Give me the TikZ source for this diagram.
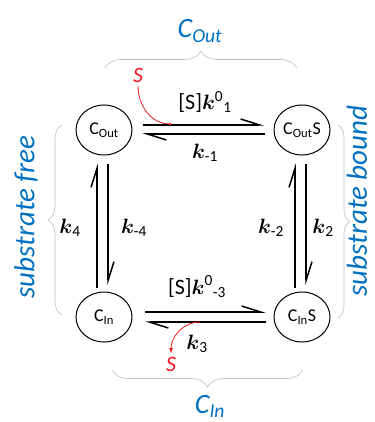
\documentclass[tikz,border=0pt]{standalone}
\usepackage{amsmath}
\usepackage{fontspec}
\setmainfont{Carlito}
\usetikzlibrary{arrows.meta,shapes.geometric,decorations.pathreplacing}
\tikzset{>=latex}
\definecolor{myblue}{RGB}{0,112,192}
\definecolor{myred}{RGB}{235,25,35}
\definecolor{mygray}{RGB}{180,192,205}
\tikzstyle{species}=[ellipse,draw,line width=1pt,minimum width=56,minimum height=50,inner sep=0pt,font=\fontsize{18}{20}\selectfont]
\tikzstyle{harp}=[line width=1.5pt,-{Straight Barb[left,length=19pt,width=12pt]}]
\tikzstyle{rate}=[font=\fontsize{22}{24}\selectfont]
\tikzstyle{brc}=[mygray,line width=0.6pt,decorate]
\tikzstyle{group}=[myblue,font=\fontsize{28}{30}\selectfont\itshape]
\tikzstyle{side}=[myblue,font=\fontsize{29}{31}\selectfont\itshape,rotate=90]
\newcommand{\kk}[1]{$\boldsymbol{k}_{\text{#1}}$}

\begin{document}
\begin{tikzpicture}[x=1pt,y=-1pt]
  \clip (0,0) rectangle (374,422);
  \node[species] (co) at (104,130) {C\textsubscript{Out}};
  \node[species] (cos) at (302,130) {C\textsubscript{Out}S};
  \node[species] (ci) at (104,317) {C\textsubscript{In}};
  \node[species] (cis) at (302,317) {C\textsubscript{In}S};
  % horizontal steps
  \draw[harp,shorten <=10pt,shorten >=9pt] ([yshift=5]co.east) -- ([yshift=5]cos.west);
  \draw[harp,shorten <=9pt,shorten >=10pt] ([yshift=-4]cos.west) -- ([yshift=-4]co.east);
  \draw[harp,shorten <=12pt,shorten >=8pt] ([yshift=5]ci.east) -- ([yshift=5]cis.west);
  \draw[harp,shorten <=8pt,shorten >=12pt] ([yshift=-5]cis.west) -- ([yshift=-5]ci.east);
  % vertical steps
  \draw[harp,shorten <=4pt,shorten >=8pt] ([xshift=-7]ci.north) -- ([xshift=-7]co.south);
  \draw[harp,shorten <=8pt,shorten >=6pt] ([xshift=4]co.south) -- ([xshift=4]ci.north);
  \draw[harp,shorten <=4pt,shorten >=8pt] ([xshift=-7]cis.north) -- ([xshift=-7]cos.south);
  \draw[harp,shorten <=8pt,shorten >=6pt] ([xshift=4]cos.south) -- ([xshift=4]cis.north);
  % rates
  \node[rate] (r1) at (205,102) {[S]$\boldsymbol{k}^{\text{0}}{}_{\text{1}}$};
  \node[rate] (rm1) at (205,153) {\kk{-1}};
  \node[rate] (r4) at (70,228) {\kk{4}};
  \node[rate] (rm4) at (134,228) {\kk{-4}};
  \node[rate] (rm2) at (271,228) {\kk{-2}};
  \node[rate] (r2) at (323,228) {\kk{2}};
  \node[rate] (rm3) at (197,287) {[S]$\boldsymbol{k}^{\text{0}}{}_{\text{-3}}$};
  \node[rate] (r3) at (197,344) {\kk{3}};
  % substrate in and out
  \node[myred,font=\fontsize{22}{24}\selectfont\itshape] (s1) at (138,75) {S};
  \coordinate (b1) at (170,124);
  \draw[myred,line width=0.8pt] (s1.south) to[out=-90,in=180] (b1);
  \fill[myred] (b1) circle (1.3);
  \node[myred,font=\fontsize{22}{24}\selectfont\itshape] (s3) at (171,364) {S};
  \coordinate (u3) at (200,322);
  \draw[myred,line width=0.8pt,->] (u3) to[out=180,in=90] (s3.north);
  % braces
  \draw[brc,decoration={brace,amplitude=17pt}] (105,68) -- (297,68);
  \draw[brc,decoration={brace,amplitude=17pt}] (303,370) -- (112,370);
  \draw[brc,decoration={brace,amplitude=14pt}] (62,315) -- (62,125);
  \draw[brc,decoration={brace,amplitude=12pt}] (338,125) -- (338,318);
  \node[group] (gout) at (200,31) {C\textsubscript{Out}};
  \node[group] (gin) at (210,406) {C\textsubscript{In}};
  \node[side] (free) at (26,217) {substrate free};
  \node[side] (bound) at (357,201) {substrate bound};
\end{tikzpicture}
\end{document}
